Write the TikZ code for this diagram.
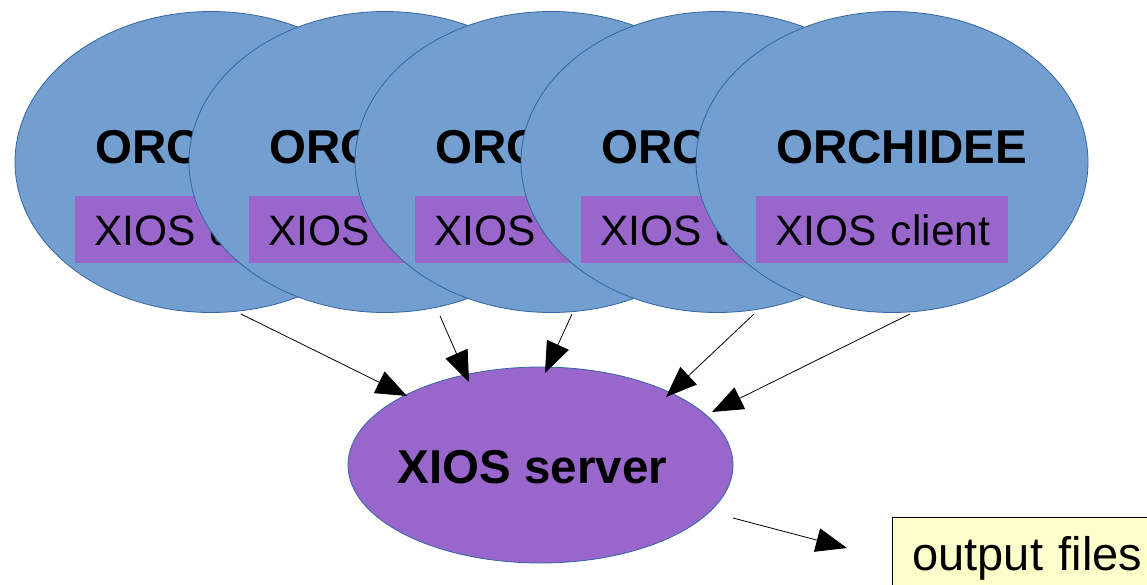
\documentclass[tikz,border=0pt]{standalone}
\usepackage{fontspec}
\setmainfont{Liberation Sans}
\usetikzlibrary{shapes.geometric,arrows.meta}
\definecolor{cblue}{HTML}{729FCF}
\definecolor{cedge}{HTML}{3465A4}
\definecolor{cpurple}{HTML}{9966CC}
\definecolor{cyellow}{HTML}{FFFFCC}
\begin{document}
\begin{tikzpicture}[x=1pt,y=-1pt,
  client/.style={shape=ellipse, draw=cedge, fill=cblue, line width=0.8pt, minimum width=392pt, minimum height=301pt, inner sep=0pt},
  title/.style={font=\fontsize{47.5pt}{56pt}\selectfont\bfseries, inner sep=0pt, anchor=base west},
  xbox/.style={fill=cpurple, anchor=north west, inner xsep=0pt, inner ysep=0pt, text width=252pt, minimum height=67pt, align=left, text height=31pt, text depth=0pt, font=\fontsize{42.5pt}{52pt}\selectfont},
  server/.style={shape=ellipse, draw=cedge, fill=cpurple, line width=0.8pt, minimum width=385pt, minimum height=196pt, inner sep=0pt},
  outbox/.style={draw=black, fill=cyellow, line width=0.8pt, anchor=north west, inner xsep=0pt, inner ysep=19pt, text height=34pt, text depth=10pt, text width=280pt, align=left, font=\fontsize{47pt}{56pt}\selectfont},
  conn/.style={line width=0.8pt, -{Triangle[length=31pt,width=24pt]}}
]
\useasboundingbox (0,0) rectangle (1147,584);
\clip (0,0) rectangle (1147,584);
\foreach \cx [count=\i] in {211,385,551,717,892}{
  \node[client] (c\i) at (\cx,162) {};
  \node[title] (t\i) at (\cx-116,163) {ORCHIDEE};
  \node[xbox] (x\i) at (\cx-136,196) {\hspace*{19pt}XIOS client};
}
\node[server] (srv) at (540.5,465) {};
\node[title, anchor=base] (srvtxt) at (532.5,483) {XIOS server};
\node[outbox] (out) at (892,517) {\hspace*{20pt}output files};
\coordinate (a1s) at (241,314); \coordinate (a1e) at (407,396);
\coordinate (a2s) at (440,316); \coordinate (a2e) at (469,382);
\coordinate (a3s) at (572,314); \coordinate (a3e) at (545,373);
\coordinate (a4s) at (754,314); \coordinate (a4e) at (666,397);
\coordinate (a5s) at (910,314); \coordinate (a5e) at (712,412);
\coordinate (a6s) at (733,518); \coordinate (a6e) at (847,548);
\foreach \i in {1,...,6}{
  \draw[conn] (a\i s) -- (a\i e);
}
\end{tikzpicture}
\end{document}
